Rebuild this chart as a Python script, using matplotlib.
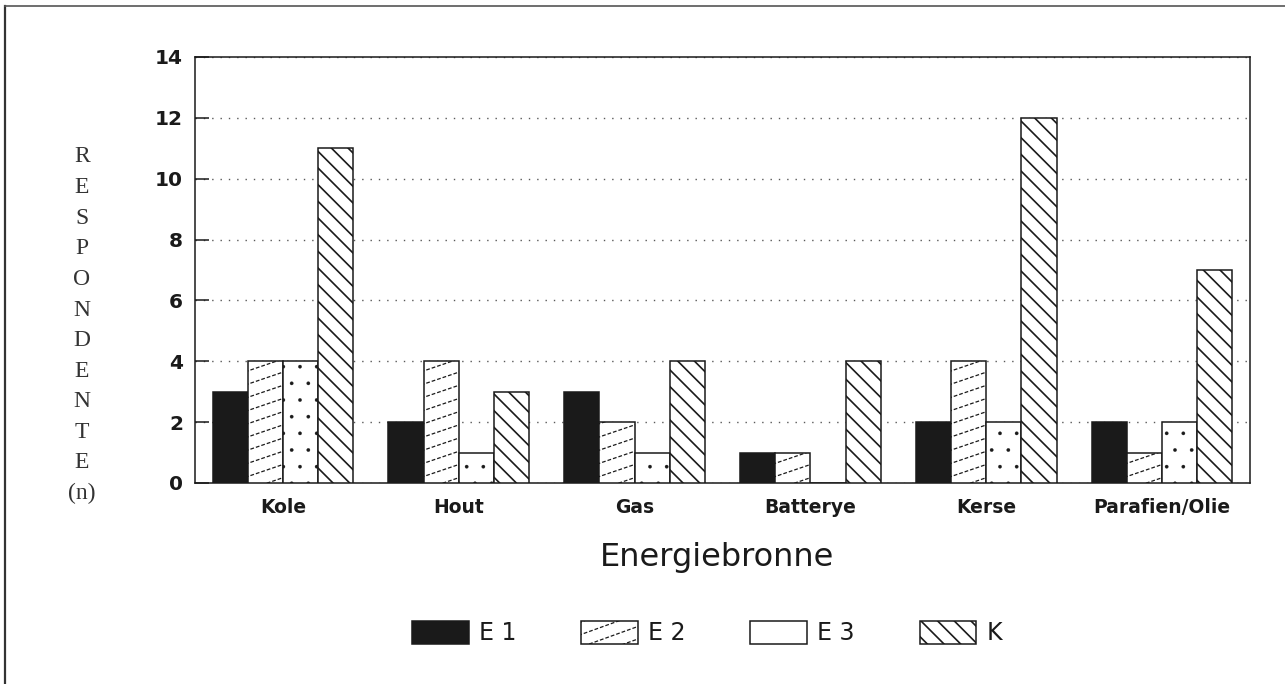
import numpy as np
import matplotlib
matplotlib.use("Agg")
import matplotlib.pyplot as plt
from matplotlib.collections import LineCollection
from matplotlib.lines import Line2D
from matplotlib.patches import Rectangle
from matplotlib.legend_handler import HandlerPatch
from matplotlib import transforms as mtransforms

# ---- data -----------------------------------------------------------------
categories = ["Kole", "Hout", "Gas", "Batterye", "Kerse", "Parafien/Olie"]
series_names = ["E 1", "E 2", "E 3", "K"]
e1 = [3, 2, 3, 1, 2, 2]
e2 = [4, 4, 2, 1, 4, 1]
e3 = [4, 1, 1, 0, 2, 2]
k = [11, 3, 4, 4, 12, 7]
y_ticks = [0, 2, 4, 6, 8, 10, 12, 14]
x_label = "Energiebronne"
y_label_letters = list("RESPONDENTE") + ["(n)"]

# ---- style ----------------------------------------------------------------
plt.rcParams["hatch.linewidth"] = 1.2
plt.rcParams["hatch.color"] = "black"
INK = "#1a1a1a"
EDGE_LW = 1.1
W, H, DPI = 12.85, 6.84, 100

fig = plt.figure(figsize=(W, H), dpi=DPI)
fig.patch.set_facecolor("white")
ax = fig.add_axes([195 / 1285, (684 - 483) / 684, (1250 - 195) / 1285, (483 - 57) / 684])

x = np.arange(len(categories))
bw = 0.2
offsets = np.array([-1.5, -0.5, 0.5, 1.5]) * bw

bars_e1 = ax.bar(x + offsets[0], e1, bw, color=INK, edgecolor=INK, linewidth=EDGE_LW, zorder=3)
bars_e2 = ax.bar(x + offsets[1], e2, bw, color="white", edgecolor=INK, linewidth=EDGE_LW, zorder=3)
with plt.rc_context({"hatch.linewidth": 0.2, "hatch.color": "#444444"}):
    bars_e3 = ax.bar(x + offsets[2], e3, bw, color="white", edgecolor=INK, linewidth=EDGE_LW,
                     hatch=".", zorder=3)
bars_k = ax.bar(x + offsets[3], k, bw, color="white", edgecolor=INK, linewidth=EDGE_LW,
                hatch="\\\\", zorder=3)

# finer, lighter dots for the E 3 bars
for p in bars_e3.patches:
    if hasattr(p, "set_hatch_linewidth"):
        p.set_hatch_linewidth(0.2)

ax.set_xlim(-0.5, len(categories) - 0.5)
ax.set_ylim(0, 14)


def shallow_segments(w, h, slope=0.34, step=9.5):
    """Low-angle rising lines covering a w x h box (units: points)."""
    segs = []
    start = -slope * w
    for c in np.arange(start + step * 0.4, h + step, step):
        segs.append([(-2, c - 2 * slope), (w + 2, c + slope * (w + 2))])
    return segs


# shallow dashed hatching for the E 2 bars, clipped to each bar
px2pt = 72.0 / DPI
for rect in bars_e2.patches:
    x0, y0 = rect.get_x(), rect.get_y()
    p0 = ax.transData.transform((x0, y0))
    p1 = ax.transData.transform((x0 + rect.get_width(), y0 + rect.get_height()))
    w_pt = (p1[0] - p0[0]) * px2pt
    h_pt = (p1[1] - p0[1]) * px2pt
    if h_pt <= 0:
        continue
    tr = mtransforms.Affine2D().scale(DPI / 72.0) + mtransforms.ScaledTranslation(x0, y0, ax.transData)
    lc = LineCollection(shallow_segments(w_pt, h_pt), colors=INK, linewidths=0.9,
                        linestyles=[(0, (3, 1.6))], transform=tr, zorder=3.5)
    ax.add_collection(lc)
    lc.set_clip_path(rect)


class ShallowHatchHandler(HandlerPatch):
    def create_artists(self, legend, orig_handle, xdescent, ydescent, width, height,
                       fontsize, trans):
        rect = Rectangle((-xdescent, -ydescent), width, height, facecolor="white",
                         edgecolor=INK, linewidth=EDGE_LW, transform=trans)
        segs = [[(a[0] - xdescent, a[1] - ydescent), (b[0] - xdescent, b[1] - ydescent)]
                for a, b in shallow_segments(width, height, slope=0.36, step=9.0)]
        lc = LineCollection(segs, colors=INK, linewidths=0.9, linestyles=[(0, (3, 1.6))],
                            transform=trans)
        lc.set_clip_path(rect)
        return [rect, lc]


class PlainBoxHandler(HandlerPatch):
    def create_artists(self, legend, orig_handle, xdescent, ydescent, width, height,
                       fontsize, trans):
        rect = Rectangle((-xdescent, -ydescent), width, height, facecolor="white",
                         edgecolor=INK, linewidth=EDGE_LW, transform=trans)
        return [rect]


# axes frame, ticks and grid
for s in ax.spines.values():
    s.set_linewidth(1.1)
    s.set_color(INK)
ax.set_yticks(y_ticks)
ax.set_yticklabels([str(t) for t in y_ticks], fontsize=14.5, fontweight="bold",
                   family="DejaVu Sans", color=INK)
ax.tick_params(axis="y", direction="in", length=10, width=1.1, pad=8.6, colors=INK)
ax.set_xticks(x)
ax.set_xticklabels(categories, fontsize=13.5, fontweight="bold", family="DejaVu Sans",
                   color=INK)
ax.tick_params(axis="x", length=0, pad=11)
ax.yaxis.grid(True, linestyle=(0, (1, 5)), color="0.35", linewidth=1.0, zorder=0)
ax.set_axisbelow(True)

# axis titles
fig.text(717 / 1285, 1 - 566 / 684, x_label, ha="center", va="baseline",
         fontsize=23, family="DejaVu Sans", color=INK)
for i, letter in enumerate(y_label_letters):
    fig.text(82 / 1285, 1 - (157 + 30.6 * i) / 684, letter, ha="center", va="center",
             fontsize=17, family="Liberation Serif", color="#333333")

# legend
leg = fig.legend([bars_e1, bars_e2, bars_e3, bars_k], series_names, ncol=4,
                 loc="center", bbox_to_anchor=(707 / 1285, 1 - 633 / 684),
                 frameon=False, prop={"family": "DejaVu Sans", "size": 17},
                 handlelength=2.41, handleheight=1.14, handletextpad=0.42,
                 columnspacing=2.75, borderpad=0,
                 handler_map={bars_e2: ShallowHatchHandler(), bars_e3: PlainBoxHandler()})
for t in leg.get_texts():
    t.set_color(INK)

# page frame along the left and top edges
fig.add_artist(Line2D([5 / 1285, 5 / 1285], [0, 1 - 6 / 684], transform=fig.transFigure,
                      color="#333333", linewidth=1.6))
fig.add_artist(Line2D([5 / 1285, 1], [1 - 6 / 684, 1 - 6 / 684], transform=fig.transFigure,
                      color="#555555", linewidth=1.2))

fig.savefig("out.png", dpi=DPI, facecolor="white")
